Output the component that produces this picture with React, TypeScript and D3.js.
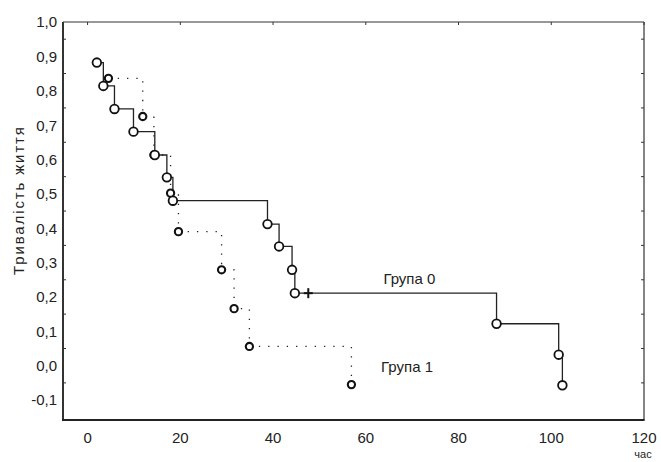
import React from "react";
import * as d3 from "d3";

const group0Time = [2.0, 3.4, 5.8, 9.9, 14.5, 17.1, 18.4, 38.8, 41.3, 44.1, 44.7, 88.2, 101.6, 102.4];
const group0Surv = [0.882, 0.814, 0.747, 0.681, 0.613, 0.548, 0.48, 0.412, 0.347, 0.279, 0.211, 0.122, 0.032, -0.057];
const group0Censored = [{ t: 47.6, s: 0.211 }];

const group1Time = [4.5, 11.9, 14.3, 17.9, 19.6, 28.9, 31.6, 34.9, 56.9];
const group1Surv = [0.836, 0.725, 0.613, 0.502, 0.39, 0.279, 0.166, 0.056, -0.055];

const xTicks = [0, 20, 40, 60, 80, 100, 120];
const yLabels = [1.0, 0.9, 0.8, 0.7, 0.6, 0.5, 0.4, 0.3, 0.2, 0.1, 0.0, -0.1];
const yMinorTicks = [0.95, 0.85, 0.75, 0.65, 0.55, 0.45, 0.35, 0.25, 0.15, 0.05, -0.05];

const groupLabels = [
  { text: "Група 0", t: 63.8, s: 0.254 },
  { text: "Група 1", t: 63.3, s: -0.002 },
];

const W = 661;
const H = 462;
const left = 63, right = 644, top = 22, bottom = 420;

export default function App() {
  const x = d3.scaleLinear().domain([-5.3, 120]).range([left, right]);
  const y = d3.scaleLinear().domain([-0.158, 1.0]).range([bottom, top]);

  const g0 = group0Time.map((t, i) => [t, group0Surv[i]] as [number, number]);
  const g1 = group1Time.map((t, i) => [t, group1Surv[i]] as [number, number]);
  const line = d3
    .line<[number, number]>()
    .x((d) => x(d[0]))
    .y((d) => y(d[1]))
    .curve(d3.curveStepAfter);

  const font = "'Liberation Sans', Arial, sans-serif";
  const fmt = (v: number) => v.toFixed(1).replace(".", ",").replace("-0,0", "0,0");

  return (
    <svg
      width={W}
      height={H}
      style={{ position: "absolute", left: 0, top: 0, background: "#fff" }}
      fontFamily={font}
    >
      <rect x={0} y={0} width={W} height={H} fill="#fff" />
      {/* frame */}
      <line x1={left} y1={top} x2={right} y2={top} stroke="#333" strokeWidth={1.2} />
      <line x1={right} y1={top} x2={right} y2={bottom} stroke="#333" strokeWidth={1.2} />
      <line x1={left} y1={top} x2={left} y2={bottom + 1} stroke="#333" strokeWidth={2} />
      <line x1={left - 1} y1={bottom} x2={right + 0.6} y2={bottom} stroke="#222" strokeWidth={2} />
      {/* ticks */}
      {yMinorTicks.map((v) => (
        <g key={"yt" + v}>
          <line x1={left} x2={left + 3} y1={y(v)} y2={y(v)} stroke="#333" strokeWidth={1} />
          <line x1={right} x2={right - 3} y1={y(v)} y2={y(v)} stroke="#333" strokeWidth={1} />
        </g>
      ))}
      {xTicks.map((v) => (
        <line key={"xt" + v} x1={x(v)} x2={x(v)} y1={top} y2={top + 3} stroke="#333" strokeWidth={1} />
      ))}
      {/* y labels */}
      {yLabels.map((v) => (
        <text
          key={"yl" + v}
          x={57}
          y={y(v)}
          dy="0.36em"
          textAnchor="end"
          fontSize={15}
          fill="#222"
        >
          {fmt(v)}
        </text>
      ))}
      {/* x labels */}
      {xTicks.map((v) => (
        <text key={"xl" + v} x={x(v)} y={438} dy="0.36em" textAnchor="middle" fontSize={15} fill="#222">
          {v}
        </text>
      ))}
      <text x={643} y={454} dy="0.36em" textAnchor="middle" fontSize={11} fill="#222">
        час
      </text>
      <text
        transform={`translate(19, ${201}) rotate(-90)`}
        textAnchor="middle"
        dy="0.36em"
        fontSize={15}
        fill="#222"
        textLength={148}
        lengthAdjust="spacing"
      >
        Тривалість життя
      </text>
      {/* group 1 dotted */}
      <path d={line(g1) || ""} fill="none" stroke="#222" strokeWidth={1.3} strokeDasharray="1.3,8" />
      {/* group 0 solid */}
      <path d={line(g0) || ""} fill="none" stroke="#222" strokeWidth={1.3} />
      {g1.map((d, i) => (
        <circle key={"c1" + i} cx={x(d[0])} cy={y(d[1])} r={3.6} fill="#fff" stroke="#111" strokeWidth={2.1} />
      ))}
      {g0.map((d, i) => (
        <circle key={"c0" + i} cx={x(d[0])} cy={y(d[1])} r={4.3} fill="#fff" stroke="#111" strokeWidth={1.8} />
      ))}
      {group0Censored.map((c, i) => (
        <g key={"cs" + i} stroke="#111" strokeWidth={2}>
          <line x1={x(c.t) - 4.5} x2={x(c.t) + 4.5} y1={y(c.s)} y2={y(c.s)} />
          <line x1={x(c.t)} x2={x(c.t)} y1={y(c.s) - 5} y2={y(c.s) + 5} />
        </g>
      ))}
      {groupLabels.map((g) => (
        <text key={g.text} x={x(g.t)} y={y(g.s)} dy="0.36em" textAnchor="start" fontSize={15} fill="#222">
          {g.text}
        </text>
      ))}
    </svg>
  );
}
